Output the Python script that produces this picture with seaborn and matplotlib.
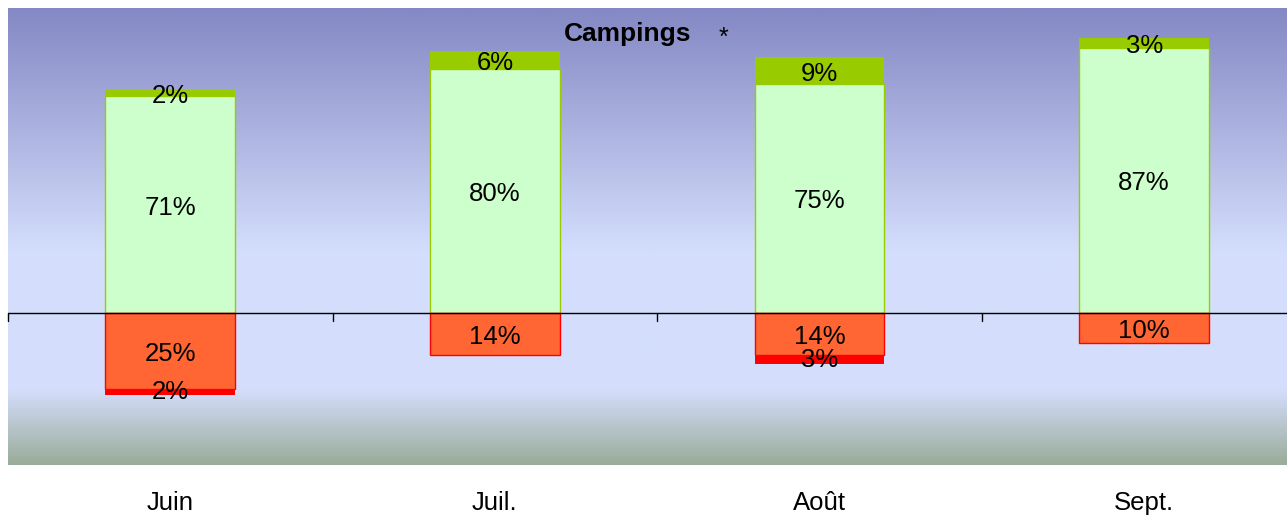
import matplotlib
matplotlib.use("Agg")
import matplotlib.pyplot as plt
import numpy as np
import pandas as pd
import seaborn as sns
from matplotlib.colors import LinearSegmentedColormap

months = ["Juin", "Juil.", "Août", "Sept."]
pos_main = [71, 80, 75, 87]
pos_top = [2, 6, 9, 3]
neg_main = [25, 14, 14, 10]
neg_bottom = [2, 0, 3, 0]

LIGHT_GREEN = "#CCFFCC"
DARK_GREEN = "#99CC00"
ORANGE = "#FF6633"
RED = "#FF0000"

sns.set_theme(style="white")
plt.rcParams["font.family"] = ["Liberation Sans", "DejaVu Sans"]
plt.rcParams["text.color"] = "black"

df = pd.DataFrame({
    "month": months,
    "pos_total": np.array(pos_main) + np.array(pos_top),
    "pos_main": pos_main,
    "neg_total": -(np.array(neg_main) + np.array(neg_bottom)),
    "neg_main": [-v for v in neg_main],
})

fig = plt.figure(figsize=(12.87, 5.17), dpi=100)
ax = fig.add_axes([8 / 1287, 52 / 517, 1 - 8 / 1287, 457 / 517])

# background gradient
bg = LinearSegmentedColormap.from_list("bg", [
    (0.0, (154 / 255, 172 / 255, 154 / 255)),
    (0.164, (212 / 255, 222 / 255, 252 / 255)),
    (0.466, (212 / 255, 222 / 255, 252 / 255)),
    (1.0, (132 / 255, 136 / 255, 196 / 255)),
])
grad = np.linspace(0, 1, 256).reshape(-1, 1)
ax.imshow(grad, cmap=bg, origin="lower", aspect="auto", extent=[0, 1, 0, 1],
          transform=ax.transAxes, zorder=0)

bar_kw = dict(order=months, width=0.4, saturation=1, ax=ax, zorder=2)
sns.barplot(data=df, x="month", y="pos_total", color=DARK_GREEN, linewidth=0, **bar_kw)
sns.barplot(data=df, x="month", y="pos_main", color=LIGHT_GREEN,
            edgecolor=DARK_GREEN, linewidth=1, **bar_kw)
sns.barplot(data=df, x="month", y="neg_total", color=RED, linewidth=0, **bar_kw)
sns.barplot(data=df, x="month", y="neg_main", color=ORANGE,
            edgecolor=RED, linewidth=1, **bar_kw)

label_kw = dict(ha="center", va="center", fontsize=18.5, color="black", zorder=5)
for i in range(len(months)):
    ax.text(i, pos_main[i] / 2 - 1, f"{pos_main[i]}%", **label_kw)
    if pos_top[i]:
        ax.text(i, pos_main[i] + pos_top[i] / 2 - 1, f"{pos_top[i]}%", **label_kw)
    ax.text(i, -neg_main[i] / 2 - 1, f"{neg_main[i]}%", **label_kw)
    if neg_bottom[i]:
        ax.text(i, -neg_main[i] - neg_bottom[i] / 2, f"{neg_bottom[i]}%", **label_kw)

ax.set_xlim(-0.5, 3.44)
ax.set_ylim(-50, 100)
ax.axhline(0, color="black", linewidth=1, zorder=3)
for b in [-0.5, 0.5, 1.5, 2.5]:
    ax.plot([b, b], [0, -2.6], color="black", linewidth=1, zorder=3, clip_on=False)

ax.set_xticks([])
ax.set_yticks([])
ax.set_xlabel("")
ax.set_ylabel("")
for spine in ax.spines.values():
    spine.set_visible(False)

for i, m in enumerate(months):
    ax.annotate(m, xy=(i, 0), xycoords=("data", "axes fraction"), xytext=(0, -27.5),
                textcoords="offset points", ha="center", va="center", fontsize=18.5,
                color="black")

fig.text(628 / 1287, 1 - 34 / 517, "Campings", ha="center", va="center",
         fontsize=19, fontweight="bold", color="black")
fig.text(723 / 1287, 1 - 38 / 517, "*", ha="center", va="center", fontsize=18,
         color="black")

fig.savefig("out.png", dpi=100)
